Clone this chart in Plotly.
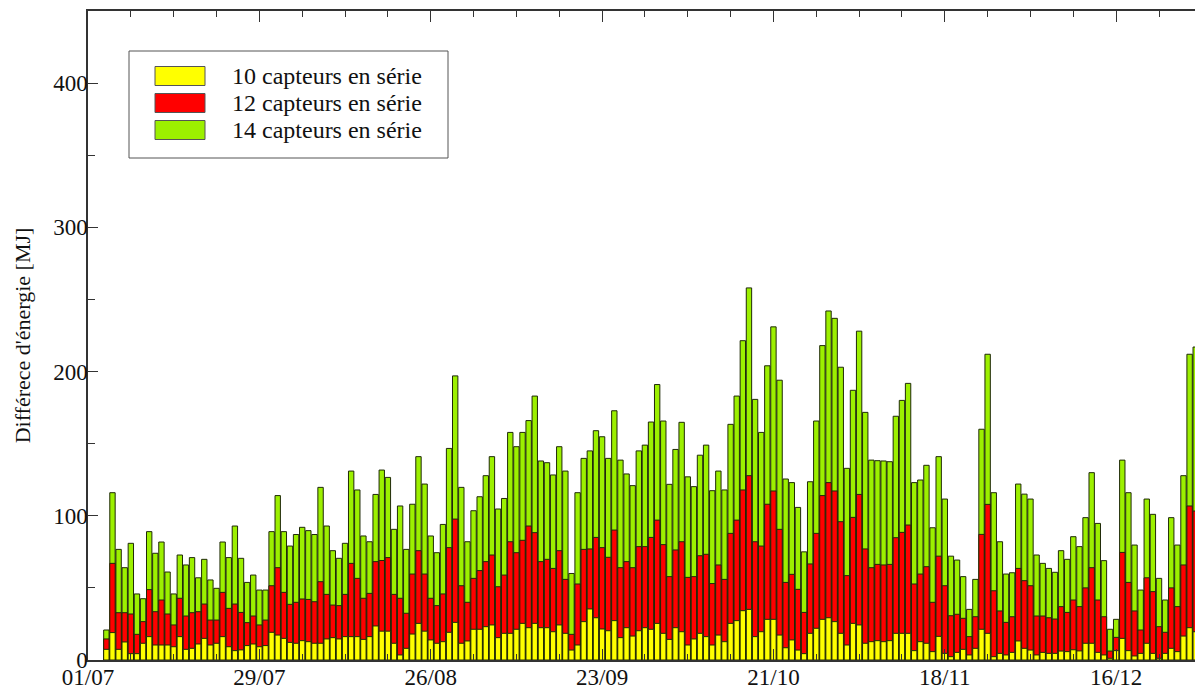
import plotly.graph_objects as go

# ---------------- data ----------------
tick_labels = ["01/07", "29/07", "26/08", "23/09", "21/10", "18/11", "16/12"]
tick_days = [0, 28, 56, 84, 112, 140, 168]
first_day = 3  # days after 01/07 of the first bar

series_names = ["10 capteurs en série", "12 capteurs en série", "14 capteurs en série"]

s14 = [20.8, 116, 76.7, 64, 80.9, 45.8, 42.5, 89, 74, 81.8, 61, 45.8, 72.8, 65.9, 71, 57, 69.8, 55.5, 49.7, 81.8,
       71, 92.9, 70.5, 53.8, 58.9, 48.5, 48.5, 89, 114, 89, 79, 87, 92, 89.7, 87, 119.7, 92.9, 75.8, 70.5, 80.9,
       131, 117.9, 86, 82, 114.8, 131.7, 126.6, 90.6, 106.8, 76.7, 108, 141, 122, 86, 74.4, 94, 146.7, 197, 119.7, 82,
       103.5, 113.2, 127.8, 141, 104.7, 112, 157.8, 147.9, 157.8, 166, 183, 138, 136.8, 128.3, 147.9, 131, 60, 116, 139.8, 145,
       159, 154.8, 139.8, 172.8, 138.6, 129, 120.9, 145, 149, 165, 191, 165.7, 121.8, 146, 164.8, 127, 120.2, 142, 149, 117.4,
       131, 117.9, 163.4, 183, 221.4, 258, 180.7, 157.8, 204, 231, 194, 125.5, 123, 105.8, 75, 123.6, 165.7, 218, 242, 236.9,
       203, 132.9, 187, 228, 171.7, 138.6, 138.2, 138, 137.5, 169, 180, 191.8, 123, 124.8, 135, 91.7, 141, 111.6, 72, 69.3,
       57.8, 35.1, 55.9, 160, 212, 116, 82, 59.6, 60.5, 122, 115, 111.6, 72.8, 67, 63.5, 60.8, 75.8, 69.8, 85.5, 78.6,
       98.7, 129.9, 94.7, 68.9, 21.3, 28.2, 138.6, 116, 79.7, 48.5, 111.6, 101, 56.6, 41.6, 98.7, 79.7, 127.8, 212, 217, 208.7]

s12 = [14.6, 67, 32.8, 32.8, 31.9, 17.8, 26.6, 48.8, 33.5, 41.6, 31.9, 24.3, 42.8, 30.5, 32.8, 33.5, 38.8, 27.7, 27.7, 46.9,
       35.8, 38.8, 33, 25.9, 30.5, 24.3, 27.7, 51.5, 64, 46.9, 38.6, 40, 42.3, 42, 40.4, 54.3, 45.5, 38.1, 37.7, 45.5,
       67, 56.6, 42.8, 46.2, 68.2, 69, 71, 45.5, 42.8, 32.4, 59.6, 75.8, 59.6, 42.8, 37.7, 45.8, 77.9, 97.7, 51.5, 40,
       56.6, 62, 68.2, 72.8, 50.8, 58.9, 82, 74.4, 83, 92.9, 88.3, 68.2, 69.8, 63.5, 75.8, 55.9, 17.8, 52.7, 76.7, 77,
       85, 77.9, 71.2, 90.1, 64, 68.2, 64, 78.6, 78.6, 85, 97, 80, 57.8, 76.3, 82, 57.3, 57.8, 72.3, 73.3, 53,
       65.9, 55.9, 87.8, 97, 117.9, 127.8, 82, 79, 108, 117.2, 90.6, 53.8, 59.4, 49, 33, 66.6, 87.8, 114, 123, 117.2,
       95.9, 58.5, 98.9, 114.8, 77, 64, 66.3, 65.9, 66.3, 84.8, 88.5, 93.6, 52.7, 59.6, 64.7, 40, 72, 51.5, 30.7, 31.7,
       28.9, 16.2, 30, 87.1, 107.9, 48, 34, 26.1, 30, 63.5, 55, 51.5, 30.5, 30.5, 29.3, 28.4, 37, 33, 41.6, 37,
       50, 64, 41.6, 30, 6.2, 15.7, 74.6, 53.8, 34, 20.8, 57, 47.4, 23.1, 19.2, 50, 37, 65.9, 106.8, 103.3, 99.8]

s10 = [7.4, 19, 7.4, 12.5, 4.4, 4.4, 11.6, 16.2, 10.4, 10.4, 10.4, 9.2, 16.2, 7.4, 8.1, 11.1, 15, 10.4, 11.6, 16.2,
       9.2, 6.5, 7, 10, 11.1, 9.2, 10, 19.2, 17.3, 15, 12.2, 11.6, 13.4, 12.7, 11.6, 11.6, 14.6, 15.5, 14.6, 16.2,
       16.2, 16.2, 14.3, 16.2, 23.6, 20, 20, 11.6, 3.5, 8.1, 18, 25.4, 20, 13.9, 11.6, 12.7, 19.2, 26.1, 11.6, 13.2,
       21.3, 21.3, 23.1, 24.3, 15.5, 18.5, 18.5, 21.3, 25.4, 22.4, 25.4, 22.4, 22.4, 19.6, 24.3, 18.5, 6.9, 10.4, 26.6, 35.4,
       29.3, 21.5, 20.3, 27.3, 15.5, 22.4, 16.6, 20.3, 22.4, 21.3, 25.4, 18.5, 14.3, 22.4, 19.6, 10.4, 14.6, 18.5, 16.2, 10.4,
       17.3, 12.7, 25.4, 27.3, 34.2, 35.1, 16.2, 19.6, 28.2, 28.2, 17.3, 8.5, 13.9, 6.9, 4.4, 18.5, 22, 28.2, 29.3, 26.6,
       18.5, 10.4, 25.4, 24.3, 11.6, 12.7, 13.4, 12.7, 13.4, 18.5, 18.5, 18.5, 6.5, 12.7, 11.6, 5.8, 16.4, 4.6, 2.3, 5.3,
       7.4, 3.5, 8.1, 21.3, 18.5, 2.3, 4.6, 3.5, 5.3, 13.2, 8.1, 6.9, 3.5, 5.3, 4.6, 4.6, 6.2, 5.8, 7.1, 6.3,
       11.6, 11.6, 5.3, 3.5, 1.2, 6.5, 15, 6.5, 2.8, 4.6, 11.6, 4.6, 1.2, 4.6, 8.1, 5.8, 16.6, 22.4, 19.6, 20.1]

days = [first_day + i for i in range(len(s14))]

# ---------------- styles ----------------
colors = {"10": "#ffff00", "12": "#ff0000", "14": "#9cf000"}
edge = "#1f2a08"
FONT = "Liberation Serif"
# the page body has an 8px margin, so the figure is 8px smaller than the window
W, H = 1195, 685
L, R, T, B = 80, 0, 3, 33

fig = go.Figure()
for vals, key, name in [(s14, "14", series_names[2]), (s12, "12", series_names[1]), (s10, "10", series_names[0])]:
    fig.add_trace(go.Bar(
        x=days, y=vals, name=name, width=0.88, showlegend=False,
        marker=dict(color=colors[key], line=dict(color=edge, width=1)),
    ))

fig.update_layout(
    width=W, height=H, barmode="overlay",
    margin=dict(l=L, r=R, t=T, b=B, autoexpand=False),
    plot_bgcolor="white", paper_bgcolor="white",
    font=dict(family=FONT, size=23, color="#111"),
    xaxis=dict(
        range=[0, (W - L - R) / 6.12], tickmode="array", tickvals=tick_days, ticktext=tick_labels,
        ticks="inside", ticklen=11, tickwidth=1, tickcolor="#333",
        minor=dict(tick0=0, dtick=7, ticks="inside", ticklen=6, tickcolor="#333"),
        showline=True, linecolor="#333", linewidth=1.5, mirror="ticks",
        showgrid=False, zeroline=False, tickfont=dict(size=23, family=FONT),
        ticklabelstandoff=-4,
    ),
    yaxis=dict(
        range=[0, 450], tickvals=[0, 100, 200, 300, 400], ticks="inside", ticklen=10, tickcolor="#333",
        minor=dict(tick0=0, dtick=50, ticks="inside", ticklen=7, tickcolor="#333"),
        showline=True, linecolor="#333", linewidth=1.5,
        showgrid=False, zeroline=False, tickfont=dict(size=23, family=FONT),
        ticklabelstandoff=-6,
        title=dict(text="Différece d'énergie [MJ]", font=dict(size=22, family=FONT), standoff=16),
    ),
)

# ---------------- custom legend (positions in window pixels) ----------------
X0, X1, Y0, Y1 = 88, 1203, 11, 660  # plot area in window pixels
def px(x):
    return (x - X0) / (X1 - X0)
def py(y):
    return (Y1 - y) / (Y1 - Y0)

fig.add_shape(type="rect", xref="paper", yref="paper", x0=px(129), x1=px(448), y0=py(158), y1=py(51),
              line=dict(color="#555", width=1), fillcolor="white", layer="above")
for i, (key, name) in enumerate(zip(["10", "12", "14"], series_names)):
    yc = 76 + i * 27
    fig.add_shape(type="rect", xref="paper", yref="paper", x0=px(155), x1=px(205), y0=py(yc + 9.5), y1=py(yc - 9.5),
                  line=dict(color="#555", width=1), fillcolor=colors[key], layer="above")
    fig.add_annotation(xref="paper", yref="paper", x=px(230), y=py(yc), text=name, showarrow=False,
                       xanchor="left", yanchor="middle", font=dict(family=FONT, size=24, color="#111"))

fig.write_html("out.html")
